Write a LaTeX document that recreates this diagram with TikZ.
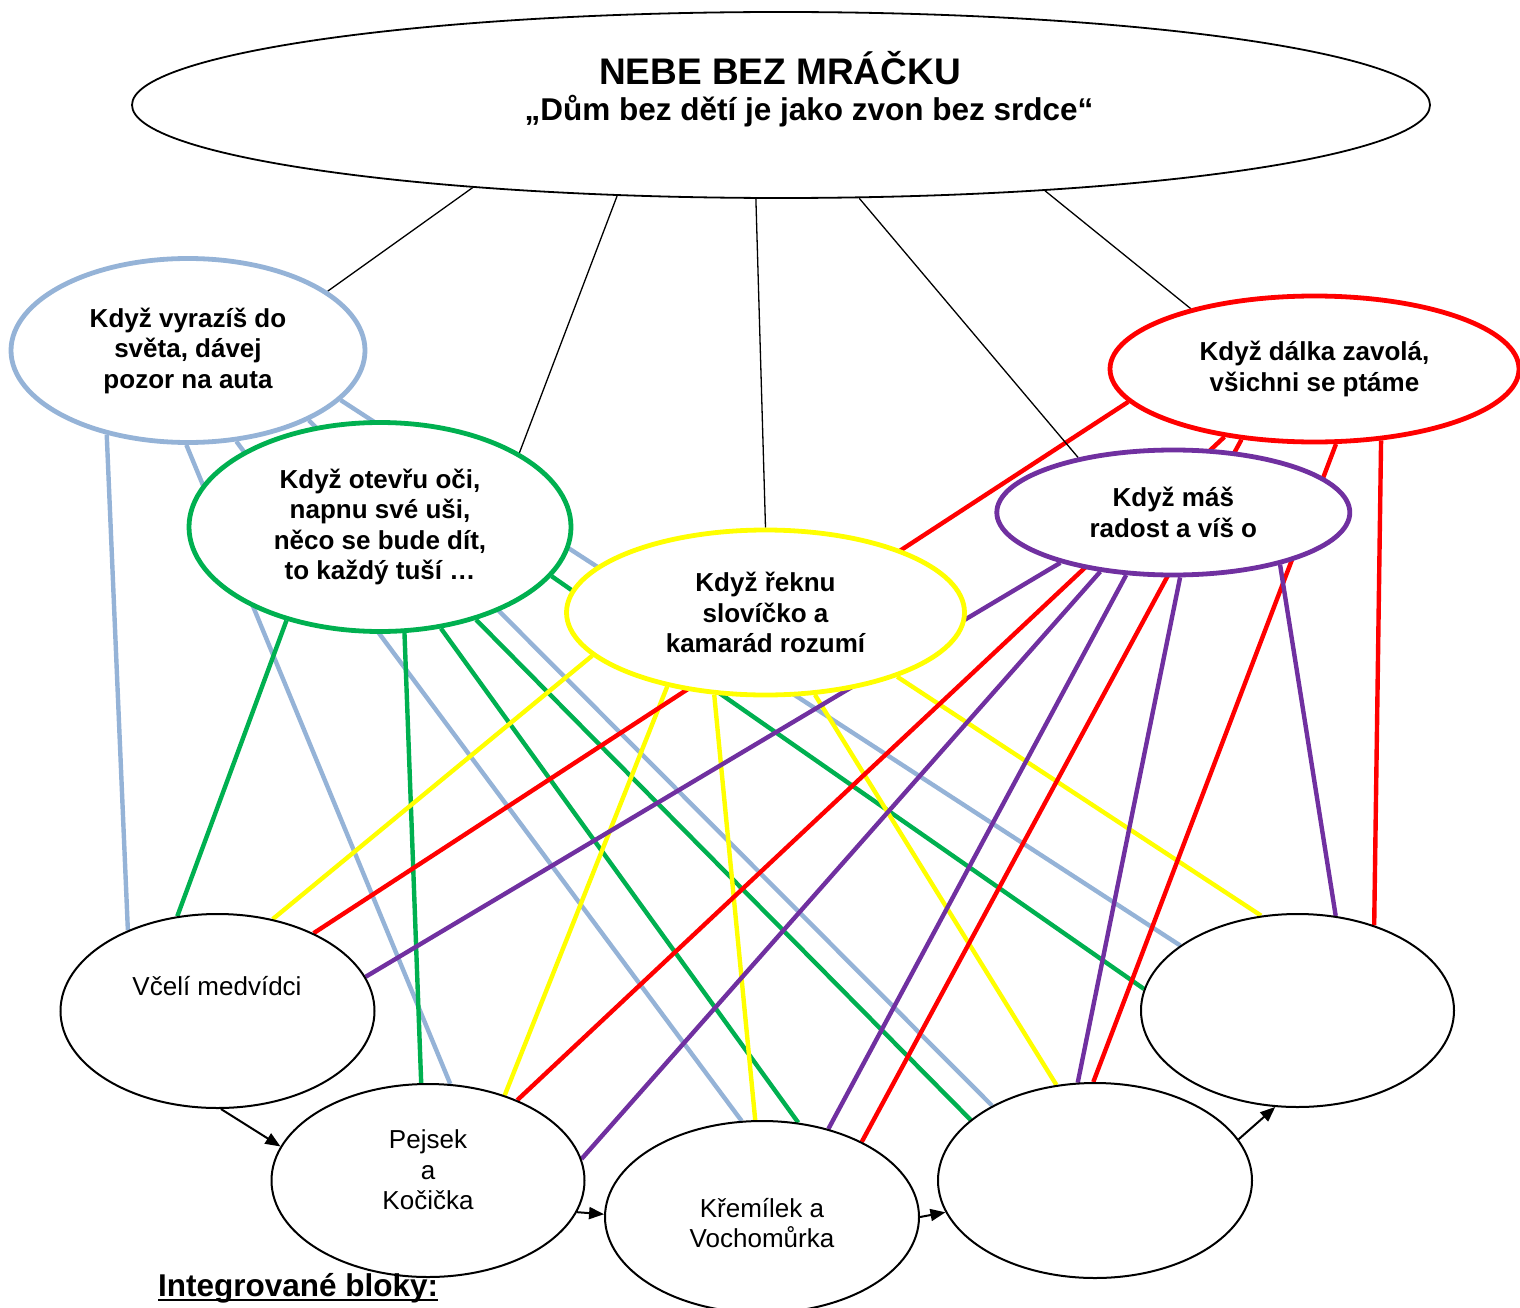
\documentclass[tikz,border=0pt]{standalone}
\usepackage{fontspec}
\setmainfont{Liberation Sans}
\usetikzlibrary{arrows.meta,shapes.geometric}
\pgfdeclarelayer{bg}
\pgfsetlayers{bg,main}
\definecolor{cblue}{RGB}{149,179,215}
\definecolor{cgreen}{RGB}{0,176,80}
\definecolor{cyellow}{RGB}{255,255,0}
\definecolor{cred}{RGB}{255,0,0}
\definecolor{cpurple}{RGB}{112,48,160}
\begin{document}
\begin{tikzpicture}[x=1pt,y=-1pt,
  topic/.style={ellipse, draw=#1, line width=4.8pt, fill=white, inner sep=0pt, align=center, font=\fontsize{26}{30.5}\selectfont\bfseries},
  block/.style={ellipse, draw=black, line width=2pt, fill=white, inner sep=0pt},
  btxt/.style={align=center, font=\fontsize{26}{30.5}\selectfont, inner sep=0pt},
  link/.style={line width=4.4pt, draw=#1},
  blackline/.style={line width=1.3pt, draw=black},
  arr/.style={line width=2pt, -{Triangle[length=15pt,width=12pt]}},
]
\useasboundingbox (0,0) rectangle (1520,1308);

% main ellipse
\node[ellipse, draw=black, line width=1.8pt, fill=white, inner sep=0pt,
      minimum width=1298pt, minimum height=186pt] (top) at (781,105) {};
\node[anchor=base, inner sep=0pt, font=\fontsize{37}{40}\selectfont\bfseries] (title) at (780,85) {NEBE BEZ MRÁČKU};
\node[anchor=base, inner sep=0pt, font=\fontsize{31.5}{35}\selectfont\bfseries] (subtitle) at (809,121) {„Dům bez dětí je jako zvon bez srdce“};

% coloured topics
\node[topic=cblue, minimum width=354pt, minimum height=184pt] (blue) at (188,350.5) {Když vyrazíš do\\světa, dávej\\pozor na auta};
\node[topic=cgreen, minimum width=382pt, minimum height=209pt] (green) at (380,527) {Když otevřu oči,\\napnu své uši,\\něco se bude dít,\\to každý tuší …};
\node[topic=cyellow, minimum width=398pt, minimum height=165pt] (yellow) at (765.5,612.5) {Když řeknu\\slovíčko a\\kamarád rozumí};
\node[topic=cred, minimum width=409pt, minimum height=146pt] (red) at (1314.5,369) {Když dálka zavolá,\\všichni se ptáme};
\node[topic=cpurple, minimum width=353pt, minimum height=125pt] (purple) at (1173.3,512.5) {Když máš\\radost a víš o};

% blocks
\node[block, minimum width=314pt, minimum height=194pt] (vceli) at (217.5,1011) {};
\node[block, minimum width=313pt, minimum height=193pt] (pejsek) at (428,1180.5) {};
\node[block, minimum width=314pt, minimum height=192pt] (kremilek) at (762,1217) {};
\node[block, minimum width=314pt, minimum height=195pt] (d4) at (1095,1180.5) {};
\node[block, minimum width=313pt, minimum height=193pt] (e5) at (1297.5,1010.5) {};

\node[btxt] (vtext) at (217,986) {Včelí medvídci};
\node[btxt] (ptext) at (428,1170) {Pejsek\\a\\Kočička};
\node[btxt] (ktext) at (762,1223) {Křemílek a\\Vochomůrka};

\node[anchor=base west, inner sep=0pt, font=\fontsize{31.5}{34}\selectfont\bfseries] (ib) at (158,1296) {Integrované bloky:};
\draw[line width=2pt] ([yshift=-4pt]ib.base west) -- ([yshift=-4pt]ib.base east);

% arrows between blocks
\draw[arr] (vceli.-88.2) -- (pejsek.167);
\draw[arr] (pejsek.-12.9) -- (kremilek.179);
\draw[arr] (kremilek.0) -- (d4.-168.2);
\draw[arr] (d4.16.8) -- (e5.-103.7);

\begin{pgfonlayer}{bg}
% blue
\draw[link=cblue] (blue.-134.5) -- (vceli.138.3);
\draw[link=cblue] (blue.-91.4) -- (pejsek.77.2);
\draw[link=cblue] (blue.-62.9) -- (kremilek.102.7);
\draw[link=cblue] (blue.-30.3) -- (d4.144.7);
\draw[link=cblue] (blue.-18.4) -- (e5.151.5);
% green
\draw[link=cgreen] (green.-135.6) -- (vceli.113.6);
\draw[link=cgreen] (green.-77.6) -- (pejsek.94.1);
\draw[link=cgreen] (green.-59.8) -- (kremilek.69.9);
\draw[link=cgreen] (green.-44.4) -- (d4.154.1);
\draw[link=cgreen] (green.-16.1) -- (e5.172.3);
% yellow
\draw[link=cyellow] (yellow.-166.9) -- (vceli.59.6);
\draw[link=cyellow] (yellow.-143) -- (pejsek.48.4);
\draw[link=cyellow] (yellow.-122.6) -- (kremilek.94.8);
\draw[link=cyellow] (yellow.-59.2) -- (d4.112.7);
\draw[link=cyellow] (yellow.-26.6) -- (e5.111.4);
% red
\draw[link=cred] (red.-170.6) -- (vceli.39.9);
\draw[link=cred] (red.-143.7) -- (pejsek.42.3);
\draw[link=cred] (red.-136.4) -- (kremilek.37.8);
\draw[link=cred] (red.-74.6) -- (d4.91);
\draw[link=cred] (red.-47.3) -- (e5.48.7);
% purple
\draw[link=cpurple] (purple.-156.5) -- (vceli.13.9);
\draw[link=cpurple] (purple.-141.1) -- (pejsek.8.3);
\draw[link=cpurple] (purple.-127.7) -- (kremilek.53);
\draw[link=cpurple] (purple.-84) -- (d4.100.7);
\draw[link=cpurple] (purple.-26.2) -- (e5.68.2);
% black
\draw[blackline] (top.-165.5) -- (blue.23.5);
\draw[blackline] (top.-151.3) -- (green.28.1);
\draw[blackline] (top.-105.3) -- (yellow.90);
\draw[blackline] (top.-50) -- (purple.150.1);
\draw[blackline] (top.-18.5) -- (red.154.6);
\end{pgfonlayer}
\end{tikzpicture}
\end{document}
